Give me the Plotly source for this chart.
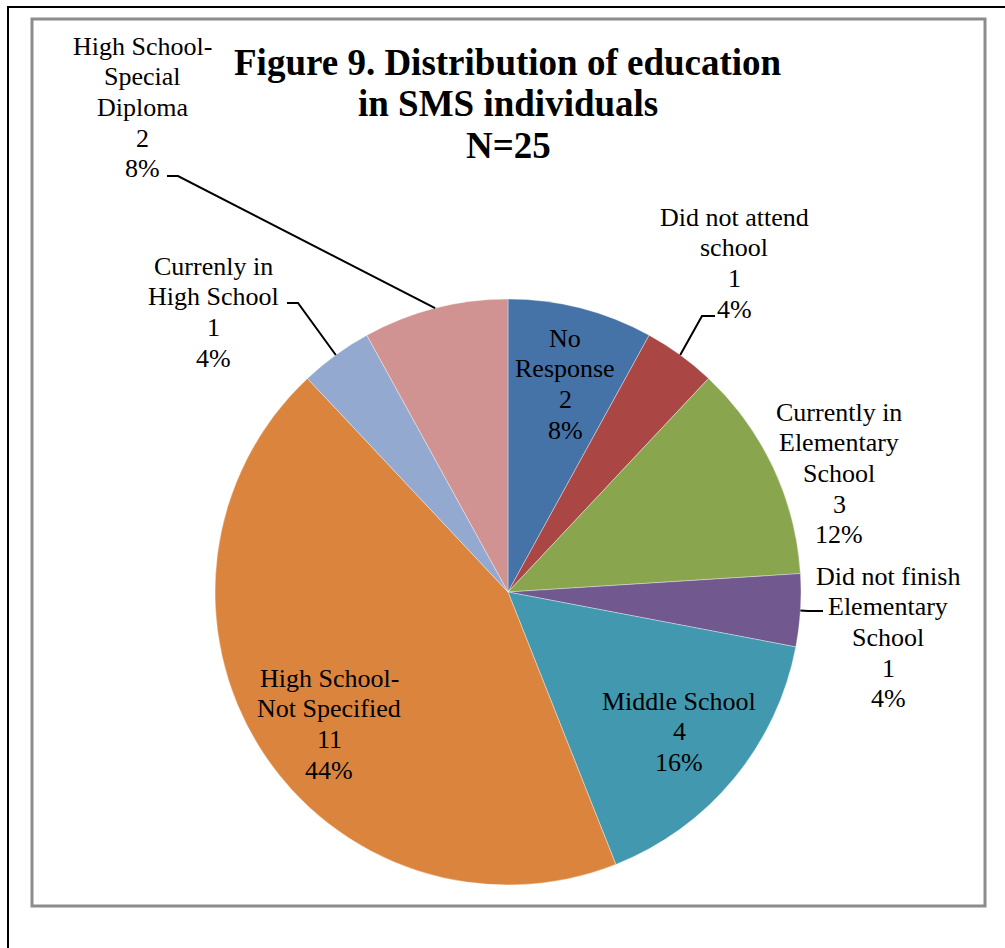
import math
import plotly.graph_objects as go

# ---- data -------------------------------------------------------------
categories = [
    "No Response",
    "Did not attend school",
    "Currently in Elementary School",
    "Did not finish Elementary School",
    "Middle School",
    "High School-Not Specified",
    "Currenly in High School",
    "High School-Special Diploma",
]
counts = [2, 1, 3, 1, 4, 11, 1, 2]
label_lines = [
    ["No", "Response"],
    ["Did not attend", "school"],
    ["Currently in", "Elementary", "School"],
    ["Did not finish", "Elementary", "School"],
    ["Middle School"],
    ["High School-", "Not Specified"],
    ["Currenly in", "High School"],
    ["High School-", "Special", "Diploma"],
]
title_lines = ["Figure 9. Distribution of education", "in SMS individuals", "N=25"]

# ---- styling / layout -------------------------------------------------
colors = ["#4572A7", "#AA4643", "#89A54E", "#71588F",
          "#4198AF", "#DB843D", "#93A9CF", "#D19392"]
W, H = 1005, 948
CX, CY, R = 508, 592, 293          # pie centre and radius in pixels
FONT = "Liberation Serif, Times New Roman, serif"
LABEL_SIZE, LABEL_STEP = 26, 30.7
TITLE_SIZE, TITLE_STEP = 37, 41.5

# label block placement: centre x, first line y, optional leader elbow
# (text-side end, elbow point)
label_place = [
    dict(x=565, y=338),
    dict(x=734, y=217, leader=[(715, 316), (702, 316)]),
    dict(x=839, y=412),
    dict(x=888, y=576, leader=[(823, 611), (808, 611)]),
    dict(x=679, y=701),
    dict(x=329, y=678),
    dict(x=213, y=266, leader=[(287, 303), (298, 303)]),
    dict(x=142, y=46, leader=[(167, 176), (178, 176)]),
]

total = sum(counts)

fig = go.Figure()
fig.add_trace(go.Pie(
    values=counts,
    labels=categories,
    sort=False,
    direction="clockwise",
    rotation=0,
    marker=dict(colors=colors, line=dict(width=0.6, color="rgba(255,255,255,0.6)")),
    textinfo="none",
    hoverinfo="label+value+percent",
    showlegend=False,
    domain=dict(x=[(CX - R) / W, (CX + R) / W],
                y=[1 - (CY + R) / H, 1 - (CY - R) / H]),
))

annotations = []
shapes = []

# title
for i, line in enumerate(title_lines):
    annotations.append(dict(
        x=508, y=62 + i * TITLE_STEP, xref="x", yref="y",
        text=f"<b>{line}</b>", showarrow=False,
        xanchor="center", yanchor="middle",
        font=dict(family=FONT, size=TITLE_SIZE, color="black"),
    ))

# data labels and leader lines
cum = 0
for name_lines, v, place in zip(label_lines, counts, label_place):
    pct = round(100 * v / total)
    lines = name_lines + [str(v), f"{pct}%"]
    for j, line in enumerate(lines):
        annotations.append(dict(
            x=place["x"], y=place["y"] + j * LABEL_STEP, xref="x", yref="y",
            text=line, showarrow=False,
            xanchor="center", yanchor="middle",
            font=dict(family=FONT, size=LABEL_SIZE, color="black"),
        ))
    mid = 2 * math.pi * (cum + v / 2) / total
    cum += v
    if "leader" in place:
        ex = CX + R * math.sin(mid)
        ey = CY - R * math.cos(mid)
        (x0, y0), (x1, y1) = place["leader"]
        shapes.append(dict(
            type="path", xref="x", yref="y",
            path=f"M {x0} {y0} L {x1} {y1} L {ex:.1f} {ey:.1f}",
            line=dict(color="black", width=2), layer="above",
        ))

# frames
shapes.append(dict(type="rect", xref="x", yref="y", x0=32, y0=19, x1=985, y1=906,
                   line=dict(color="#8c8c8c", width=3), layer="below"))
shapes.append(dict(type="path", xref="x", yref="y",
                   path=f"M 8 {H + 5} L 8 7 L {W + 5} 7",
                   line=dict(color="black", width=2), layer="below"))

fig.update_layout(
    width=W, height=H,
    margin=dict(l=0, r=0, t=0, b=0),
    paper_bgcolor="white", plot_bgcolor="white",
    xaxis=dict(range=[0, W], visible=False, fixedrange=True),
    yaxis=dict(range=[H, 0], visible=False, fixedrange=True),
    annotations=annotations,
    shapes=shapes,
    showlegend=False,
)

fig.write_html("out.html")
